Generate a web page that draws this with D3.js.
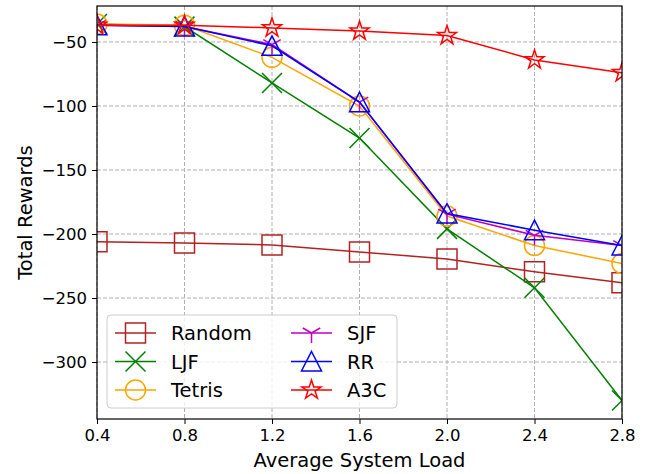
<!DOCTYPE html>
<html>
<head>
<meta charset="utf-8">
<script src="https://cdn.jsdelivr.net/npm/d3@7"></script>
<style>
  body { margin: 0; background: #fff; }
  text { font-family: "DejaVu Sans", sans-serif; }
</style>
</head>
<body>
<svg id="chart" width="655" height="474"></svg>
<script>
// loads on the x axis
const loads = [0.4, 0.8, 1.2, 1.6, 2.0, 2.4, 2.8];
const xTicks = [0.4, 0.8, 1.2, 1.6, 2.0, 2.4, 2.8];
const yTicks = [-50, -100, -150, -200, -250, -300];

// rewards per scheduler
const randomVals = [-206, -207, -208.5, -214, -219.5, -229.5, -238];
const ljfVals    = [-36, -38, -82, -125, -196, -242, -330];
const tetrisVals = [-36, -37, -62, -100, -186, -209, -223];
const sjfVals    = [-37, -38, -52, -97, -184.5, -201, -209];
const rrVals     = [-37, -38, -53, -97, -184, -197, -209];
const a3cVals    = [-37, -37, -39, -41.5, -45, -64, -74];

const seriesNames = ["Random", "LJF", "Tetris", "SJF", "RR", "A3C"];
const seriesVals = [randomVals, ljfVals, tetrisVals, sjfVals, rrVals, a3cVals];
const seriesColors = ["#b22222", "#008000", "#ffa500", "#bf00bf", "#0000ff", "#ff0000"];
const seriesMarkers = ["square", "x", "circle", "tri", "triangle", "star"];

const svg = d3.select("#chart");
const pLeft = 97, pRight = 622, pTop = 6, pBottom = 419;

const x = d3.scaleLinear().domain([0.4, 2.8]).range([pLeft, pRight]);
const y = d3.scaleLinear().domain([-344.5, -21.9]).range([pBottom, pTop]);

// grid
const grid = svg.append("g");
grid.selectAll(".gx").data(xTicks).enter().append("line")
    .attr("x1", d => x(d)).attr("x2", d => x(d))
    .attr("y1", pTop).attr("y2", pBottom)
    .attr("stroke", "#b0b0b0").attr("stroke-width", 1).attr("stroke-dasharray", "4,2");
grid.selectAll(".gy").data(yTicks).enter().append("line")
    .attr("x1", pLeft).attr("x2", pRight)
    .attr("y1", d => y(d)).attr("y2", d => y(d))
    .attr("stroke", "#b0b0b0").attr("stroke-width", 1).attr("stroke-dasharray", "4,2");

// marker shapes, r = half size
function markerPath(kind, r) {
    const p = d3.path();
    if (kind == "square") {
        p.rect(-r, -r, 2 * r, 2 * r);
    } else if (kind == "circle") {
        p.arc(0, 0, r, 0, 2 * Math.PI);
    } else if (kind == "x") {
        p.moveTo(-r, -r); p.lineTo(r, r);
        p.moveTo(-r, r); p.lineTo(r, -r);
    } else if (kind == "tri") {
        // tri_down
        p.moveTo(0, 0); p.lineTo(0, r);
        p.moveTo(0, 0); p.lineTo(-r * 0.87, -r * 0.5);
        p.moveTo(0, 0); p.lineTo(r * 0.87, -r * 0.5);
    } else if (kind == "triangle") {
        p.moveTo(0, -r); p.lineTo(r, r * 0.95); p.lineTo(-r, r * 0.95); p.closePath();
    } else if (kind == "star") {
        for (let i = 0; i < 10; i++) {
            const rr = i % 2 == 0 ? r : r * 0.382;
            const a = -Math.PI / 2 + i * Math.PI / 5;
            if (i == 0) p.moveTo(rr * Math.cos(a), rr * Math.sin(a));
            else p.lineTo(rr * Math.cos(a), rr * Math.sin(a));
        }
        p.closePath();
    }
    return p.toString();
}

svg.append("clipPath").attr("id", "plotClip")
    .append("rect").attr("x", pLeft).attr("y", pTop).attr("width", pRight - pLeft).attr("height", pBottom - pTop);

const plot = svg.append("g").attr("clip-path", "url(#plotClip)");
const line = d3.line().x((d, i) => x(loads[i])).y(d => y(d));

seriesVals.forEach(function(vals, s) {
    plot.append("path").datum(vals).attr("d", line)
        .attr("fill", "none").attr("stroke", seriesColors[s]).attr("stroke-width", 1.5);
    plot.selectAll(".m" + s).data(vals).enter().append("path")
        .attr("transform", (d, i) => "translate(" + x(loads[i]) + "," + y(d) + ")")
        .attr("d", markerPath(seriesMarkers[s], 10))
        .attr("fill", "none").attr("stroke", seriesColors[s]).attr("stroke-width", 1.5);
});

// frame
svg.append("rect").attr("x", pLeft).attr("y", pTop).attr("width", pRight - pLeft).attr("height", pBottom - pTop)
    .attr("fill", "none").attr("stroke", "#000").attr("stroke-width", 1.2);

// axes
const xAxis = d3.axisBottom(x).tickValues(xTicks).tickFormat(d3.format(".1f")).tickSize(5).tickPadding(5);
const yAxis = d3.axisLeft(y).tickValues(yTicks).tickFormat(d => "\u2212" + Math.abs(d)).tickSize(5).tickPadding(5);

const gx = svg.append("g").attr("transform", "translate(0," + pBottom + ")").call(xAxis);
const gy = svg.append("g").attr("transform", "translate(" + pLeft + ",0)").call(yAxis);
[gx, gy].forEach(function(g) {
    g.select(".domain").remove();
    g.selectAll("line").attr("stroke", "#000").attr("stroke-width", 1);
    g.selectAll("text").attr("font-size", 16.5).attr("fill", "#000").attr("font-family", "DejaVu Sans");
});

svg.append("text").attr("x", (pLeft + pRight) / 2).attr("y", 467)
    .attr("text-anchor", "middle").attr("font-size", 19.5).text("Average System Load");
svg.append("text").attr("transform", "translate(32," + ((pTop + pBottom) / 2) + ") rotate(-90)")
    .attr("text-anchor", "middle").attr("font-size", 19.5).text("Total Rewards");

// legend
const legend = svg.append("g");
legend.append("rect").attr("x", 107).attr("y", 315).attr("width", 290).attr("height", 93)
    .attr("rx", 4).attr("fill", "#fff").attr("fill-opacity", 0.8).attr("stroke", "#cccccc");

seriesNames.forEach(function(name, s) {
    const col = Math.floor(s / 3), row = s % 3;
    const lx = col == 0 ? 115 : 291;
    const ly = 333 + row * 28.5;
    legend.append("line").attr("x1", lx).attr("x2", lx + 41).attr("y1", ly).attr("y2", ly)
        .attr("stroke", seriesColors[s]).attr("stroke-width", 1.5);
    legend.append("path").attr("transform", "translate(" + (lx + 20.5) + "," + ly + ")")
        .attr("d", markerPath(seriesMarkers[s], 10))
        .attr("fill", "none").attr("stroke", seriesColors[s]).attr("stroke-width", 1.5);
    legend.append("text").attr("x", lx + 56).attr("y", ly + 7)
        .attr("font-size", 19.5).text(name);
});
</script>
</body>
</html>
